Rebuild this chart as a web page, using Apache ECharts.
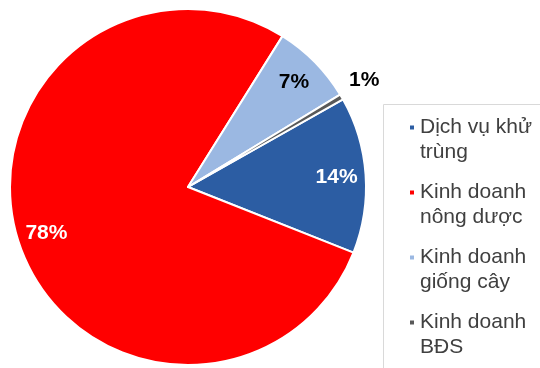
<!DOCTYPE html>
<html>
<head>
<meta charset="utf-8">
<script src="https://cdn.jsdelivr.net/npm/echarts@6/dist/echarts.min.js"></script>
<style>
  html, body { margin: 0; padding: 0; background: #fff; }
  #chart { width: 540px; height: 368px; }
</style>
</head>
<body>
<div id="chart"></div>
<script>
// ten cac mang (xuong dong nhu chu thich goc)
const names = ['Dịch vụ khử\ntrùng', 'Kinh doanh\nnông dược', 'Kinh doanh\ngiống cây', 'Kinh doanh\nBĐS']
// ty trong (%), doc tu goc cac lat
const values = [14.2, 77.9, 7.4, 0.5]
const colors = ['#2c5da3', '#ff0000', '#9bb8e2', '#595959']
const labelColors = ['#fff', '#fff', '#000', '#000']

const cx = 188
const cy = 187
const R = 178

const chart = echarts.init(document.getElementById('chart'))

const mainData = names.map((n, i) => ({
  name: n,
  value: values[i],
  itemStyle: { color: colors[i] }
}))

// vong phu trong suot chi de dat nhan o ~0.82R
const labelData = names.map((n, i) => {
  const item = {
    name: n,
    value: values[i],
    label: { color: labelColors[i] }
  }
  if (i === 3) {
    item.label.position = 'outside'
    item.label.distanceToLabelLine = -21
    item.labelLine = { show: false, length: 33, length2: 0 }
  }
  return item
})

chart.setOption({
  animation: false,
  // khung chu thich (tran ra ngoai canh phai va duoi)
  graphic: [
    {
      type: 'rect',
      silent: true,
      shape: { x: 383.5, y: 104.5, width: 200, height: 300 },
      style: { fill: 'none', stroke: '#d9d9d9', lineWidth: 1 }
    }
  ],
  legend: {
    orient: 'vertical',
    left: 408,
    top: 114,
    padding: 0,
    itemWidth: 6,
    itemHeight: 50,
    itemGap: 13,
    icon: 'path://M0,0M0,9.5h6v6h-6zM0,50',
    textStyle: {
      fontFamily: 'Liberation Sans',
      fontSize: 21,
      lineHeight: 25,
      color: '#404040'
    },
    data: names
  },
  series: [
    {
      type: 'pie',
      center: [cx, cy],
      radius: [0, R],
      startAngle: 29.5,
      clockwise: true,
      silent: true,
      label: { show: false },
      labelLine: { show: false },
      itemStyle: { borderColor: '#fff', borderWidth: 2 },
      emphasis: { disabled: true },
      data: mainData
    },
    {
      type: 'pie',
      center: [cx, cy],
      radius: [R * 0.64, R],
      startAngle: 29.5,
      clockwise: true,
      silent: true,
      avoidLabelOverlap: false,
      itemStyle: { color: 'transparent', borderWidth: 0 },
      label: {
        show: true,
        position: 'inside',
        formatter: (p) => Math.round(p.value) + '%',
        fontFamily: 'Liberation Sans',
        fontWeight: 'bold',
        fontSize: 21
      },
      labelLine: { show: false },
      emphasis: { disabled: true },
      data: labelData
    }
  ]
})
</script>
</body>
</html>
